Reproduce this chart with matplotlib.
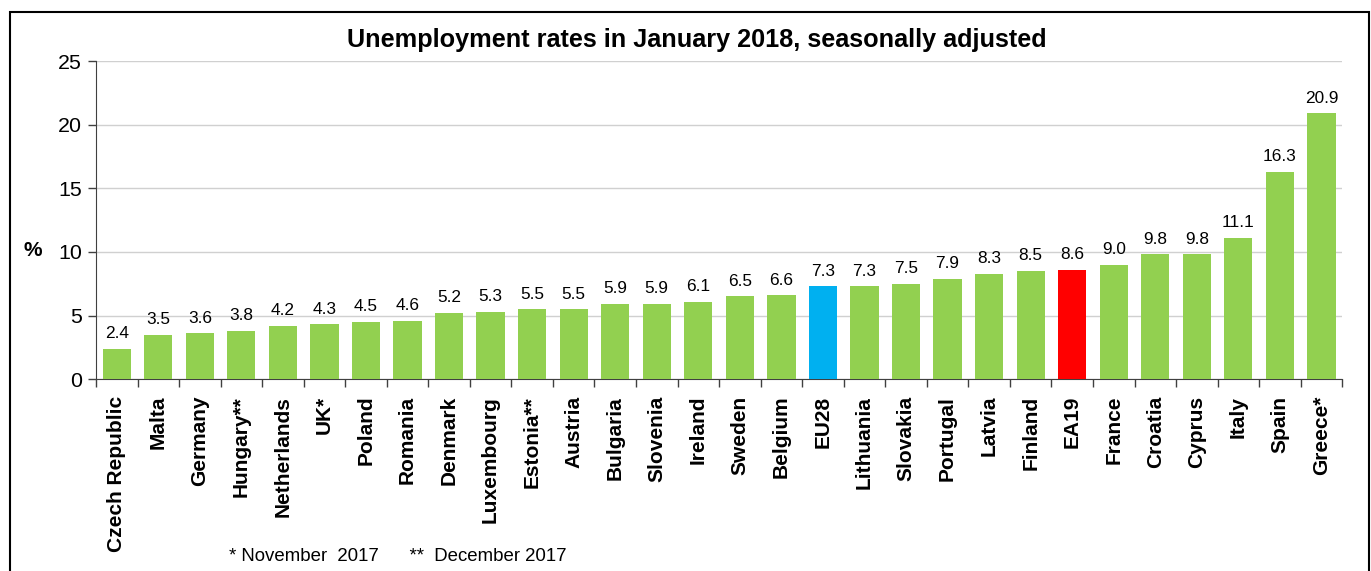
import numpy as np
import matplotlib
matplotlib.use("Agg")
import matplotlib.pyplot as plt
from matplotlib.patches import Rectangle

plt.rcParams["font.family"] = ["Liberation Sans", "DejaVu Sans"]

# ── data ──────────────────────────────────────────────
countries = ["Czech Republic", "Malta", "Germany", "Hungary**", "Netherlands",
             "UK*", "Poland", "Romania", "Denmark", "Luxembourg", "Estonia**",
             "Austria", "Bulgaria", "Slovenia", "Ireland", "Sweden", "Belgium",
             "EU28", "Lithuania", "Slovakia", "Portugal", "Latvia", "Finland",
             "EA19", "France", "Croatia", "Cyprus", "Italy", "Spain", "Greece*"]
rates = [2.4, 3.5, 3.6, 3.8, 4.2, 4.3, 4.5, 4.6, 5.2, 5.3, 5.5, 5.5, 5.9, 5.9,
         6.1, 6.5, 6.6, 7.3, 7.3, 7.5, 7.9, 8.3, 8.5, 8.6, 9.0, 9.8, 9.8, 11.1,
         16.3, 20.9]
highlight = {"EU28": "#00B0F0", "EA19": "#FF0000"}
GREEN = "#92D050"

fig = plt.figure(figsize=(13.71, 5.71), dpi=100)
ax = fig.add_axes([0.070, 0.336, 0.909, 0.557])

x = np.arange(len(countries))
colors = [highlight.get(c, GREEN) for c in countries]
ax.bar(x, rates, width=0.68, color=colors, zorder=3)
for xi, v in zip(x, rates):
    ax.text(xi, v + 0.6, f"{v:.1f}", ha="center", va="bottom", fontsize=12.4)

ax.set_xlim(-0.5, len(countries) - 0.5)
ax.set_ylim(0, 25)
ax.set_yticks([0, 5, 10, 15, 20, 25])
ax.tick_params(axis="y", labelsize=15.4, length=6, width=1, color="#404040",
               direction="out", pad=4)
ax.grid(axis="y", color="#D0D0D0", lw=1, zorder=0)

ax.set_xticks(x)
ax.set_xticklabels(countries, rotation=90, fontsize=15, fontweight="bold")
ax.tick_params(axis="x", which="major", length=0, pad=12)
ax.set_xticks(np.arange(-0.5, len(countries)), minor=True)
ax.tick_params(axis="x", which="minor", length=6, width=1, color="#404040")

for s in ("top", "right"):
    ax.spines[s].set_visible(False)
ax.spines["left"].set_color("#404040")
ax.spines["bottom"].set_color("#404040")

# title sits centred on the outer frame, not on the axes
fig.text(0.508, 0.930, "Unemployment rates in January 2018, seasonally adjusted",
         fontsize=18.2, fontweight="bold", ha="center", va="center")
fig.text(0.024, 0.562, "%", fontsize=15, fontweight="bold",
         ha="center", va="center")
fig.text(0.167, 0.025, "* November  2017      **  December 2017",
         fontsize=13.4, ha="left", va="center")

# outer frame
fig.patches.append(Rectangle((0.0075, -0.01), 0.991, 0.989,
                             transform=fig.transFigure, fill=False,
                             edgecolor="black", lw=1.5))

fig.savefig("out.png", dpi=100)
